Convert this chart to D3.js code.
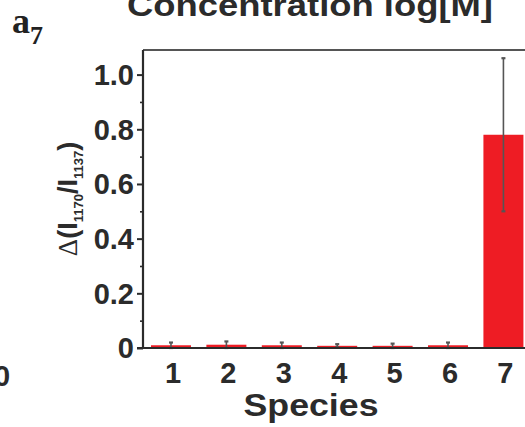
<!DOCTYPE html>
<html><head><meta charset="utf-8">
<script src="https://cdn.jsdelivr.net/npm/d3@7"></script>
<style>html,body{margin:0;padding:0;background:#fff;overflow:hidden}</style>
</head><body>
<svg id="c" width="525" height="427"></svg>
<script>
const species = ["1","2","3","4","5","6","7"];
const values = [0.010, 0.012, 0.010, 0.008, 0.008, 0.010, 0.78];
const errors = [0.010, 0.012, 0.010, 0.006, 0.008, 0.010, 0.28];
const yTicks = [0, 0.2, 0.4, 0.6, 0.8, 1.0];
const yMinor = [0.1, 0.3, 0.5, 0.7, 0.9];

const svg = d3.select("#c");
const FONT = "'Liberation Sans', Arial, sans-serif";
const ink = "#2b2b2b";
const plotLeft = 143, plotTop = 50, plotBottom = 348;

const x = d3.scaleBand().domain(species).range([plotLeft, 531.4]).paddingInner(0.278).paddingOuter(0.144);
const y = d3.scaleLinear().domain([0, 1.09]).range([plotBottom, plotTop]);

// bars
svg.selectAll("rect.bar").data(values).join("rect")
  .attr("class","bar")
  .attr("x",(d,i)=>x(species[i]))
  .attr("width",x.bandwidth())
  .attr("y",d=>y(d))
  .attr("height",d=>plotBottom-y(d))
  .attr("fill","#ee1c24");

// error bars
const eg = svg.append("g").attr("stroke","#555").attr("stroke-width",1.6);
values.forEach((v,i)=>{
  const cx = x(species[i]) + x.bandwidth()/2;
  eg.append("line").attr("x1",cx).attr("x2",cx).attr("y1",y(v+errors[i])).attr("y2",y(v-errors[i]));
  eg.append("line").attr("x1",cx-2).attr("x2",cx+2).attr("y1",y(v+errors[i])).attr("y2",y(v+errors[i])).attr("stroke-width",2.2);
  eg.append("line").attr("x1",cx-2).attr("x2",cx+2).attr("y1",y(v-errors[i])).attr("y2",y(v-errors[i])).attr("stroke-width",2.2);
});

// frame top
svg.append("line").attr("x1",plotLeft).attr("x2",530).attr("y1",plotTop).attr("y2",plotTop)
  .attr("stroke","#555").attr("stroke-width",2);
// x axis baseline
svg.append("line").attr("x1",plotLeft-6).attr("x2",530).attr("y1",plotBottom).attr("y2",plotBottom)
  .attr("stroke",ink).attr("stroke-width",2.2);

// y axis
const yAxis = d3.axisLeft(y).tickValues(yTicks).tickSize(6)
  .tickFormat(d=> d===0 ? "0" : d3.format(".1f")(d));
const ga = svg.append("g").attr("transform",`translate(${plotLeft},0)`).call(yAxis);
ga.select(".domain").attr("stroke",ink).attr("stroke-width",2.2).attr("d",`M0,${plotTop}V${plotBottom}`);
ga.selectAll(".tick line").attr("stroke",ink).attr("stroke-width",2);
ga.selectAll(".tick text").attr("font-family",FONT).attr("font-weight","bold")
  .attr("font-size",29).attr("fill",ink).attr("x",-9).attr("dy","0.34em");
const gm = svg.append("g").attr("transform",`translate(${plotLeft},0)`)
  .call(d3.axisLeft(y).tickValues(yMinor).tickSize(3).tickFormat(""));
gm.select(".domain").remove();
gm.selectAll(".tick line").attr("stroke",ink).attr("stroke-width",1.6);

// x axis labels
const gx = svg.append("g").attr("transform",`translate(0,${plotBottom})`)
  .call(d3.axisBottom(x).tickSize(0).tickPadding(14));
gx.select(".domain").remove();
gx.selectAll(".tick text").attr("font-family",FONT).attr("font-weight","bold")
  .attr("font-size",29).attr("fill",ink).attr("dx",2);

// x title
svg.append("text").attr("x",311).attr("y",416).attr("text-anchor","middle")
  .attr("font-family",FONT).attr("font-weight","bold").attr("font-size",32)
  .attr("fill",ink).attr("textLength",135).attr("lengthAdjust","spacingAndGlyphs").text("Species");

// top title (clipped)
svg.append("text").attr("x",310).attr("y",16).attr("text-anchor","middle")
  .attr("font-family",FONT).attr("font-weight","bold").attr("font-size",31)
  .attr("fill",ink).attr("textLength",366).attr("lengthAdjust","spacingAndGlyphs").text("Concentration log[M]");

// panel label
const pl = svg.append("text").attr("x",12).attr("y",33)
  .attr("font-family","'Liberation Serif', 'Times New Roman', serif").attr("font-weight","bold")
  .attr("fill","#222");
pl.append("tspan").attr("font-size",36).text("a");
pl.append("tspan").attr("font-size",26).attr("dy",11).text("7");

// neighbouring panel's tick label
svg.append("text").attr("x",-6).attr("y",386).attr("font-family",FONT)
  .attr("font-weight","bold").attr("font-size",29).attr("fill",ink).text("0");

// y title
const yt = svg.append("text").attr("transform","translate(77,199) rotate(-90)")
  .attr("text-anchor","middle").attr("font-family",FONT).attr("font-weight","bold")
  .attr("font-size",27).attr("fill",ink);
yt.append("tspan").attr("font-family","'Liberation Serif', serif").attr("font-weight","normal").text("Δ");
yt.append("tspan").text("(I");
yt.append("tspan").attr("font-size",13).attr("dy",6).text("1170");
yt.append("tspan").attr("dy",-6).text("/I");
yt.append("tspan").attr("font-size",13).attr("dy",6).text("1137");
yt.append("tspan").attr("dy",-6).text(")");
</script>
</body></html>
